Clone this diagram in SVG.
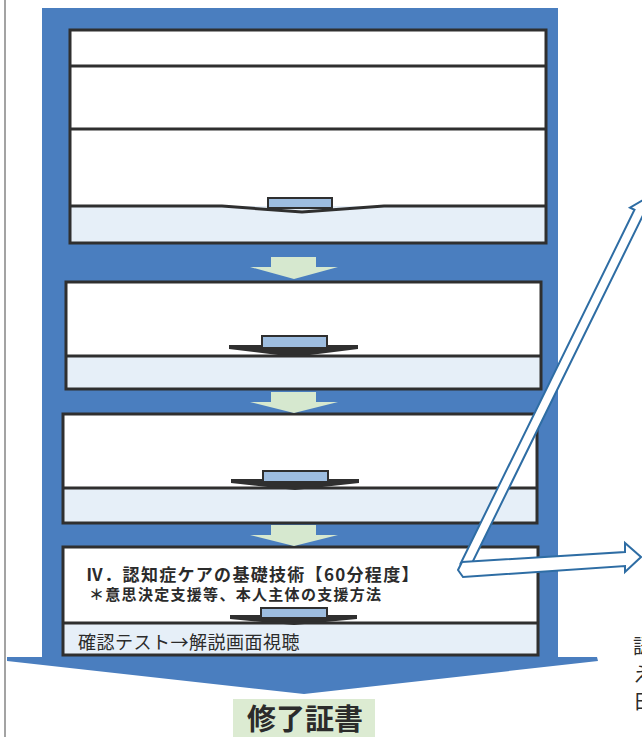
<svg xmlns="http://www.w3.org/2000/svg" width="642" height="737" viewBox="0 0 642 737">
<style>
.pw{fill:#ffffff;stroke:none}
.pl{fill:#e6eff8;stroke:none}
.po{fill:none;stroke:#2f2f2f;stroke-width:3}
.ln{fill:none;stroke:#2f2f2f;stroke-width:3}
.tab{fill:#9dbde0;stroke:#2f2f2f;stroke-width:2}
.chev{fill:#2f2f2f}
.ga{fill:#d6e8cf}
.da{fill:#ffffff;stroke:#2e6da4;stroke-width:2;stroke-linejoin:miter}
.jp{font-family:"Noto Sans CJK JP","Noto Sans",sans-serif;fill:#2b2b2b}
</style>
<line x1="5" y1="0" x2="5" y2="737" stroke="#666" stroke-width="1.2"/>
<g id="frame">
<path d="M42,8 H558 V657 H597 L598,661 L304,694 L7,661 L7,657 H42 Z" fill="#4a7ebf"/>
</g>
<g id="panel1">
<rect class="pw" x="70" y="30" width="476" height="213"/>
<rect class="pl" x="70" y="206" width="476" height="37"/>
<line class="ln" x1="70" y1="66" x2="546" y2="66"/>
<line class="ln" x1="70" y1="129" x2="546" y2="129"/>
<rect class="tab" x="268" y="198" width="64" height="10"/>
<path class="ln" d="M70,206 H222 L302,212 L384,206 H546"/>
<rect class="po" x="70" y="30" width="476" height="213"/>
</g>
<g id="panel2">
<rect class="pw" x="66" y="282" width="475" height="107"/>
<rect class="pl" x="66" y="356" width="475" height="33"/>
<path class="chev" d="M229,345 H358 V349 L294,357 L229,349 Z"/>
<rect class="tab" x="262" y="336" width="65" height="12"/>
<line class="ln" x1="66" y1="356" x2="541" y2="356"/>
<rect class="po" x="66" y="282" width="475" height="107"/>
</g>
<g id="panel3">
<rect class="pw" x="63" y="414" width="474" height="109"/>
<rect class="pl" x="63" y="488" width="474" height="35"/>
<path class="chev" d="M231,479 H359 V483 L295,490 L231,483 Z"/>
<rect class="tab" x="263" y="471" width="65" height="11"/>
<line class="ln" x1="63" y1="488" x2="537" y2="488"/>
<rect class="po" x="63" y="414" width="474" height="109"/>
</g>
<g id="panel4">
<rect class="pw" x="63" y="547" width="475" height="108"/>
<rect class="pl" x="63" y="623" width="475" height="32"/>
<path class="chev" d="M230,615 H357 V619 L294,625 L230,619 Z"/>
<rect class="tab" x="261" y="608" width="66" height="10"/>
<line class="ln" x1="63" y1="623" x2="538" y2="623"/>
<rect class="po" x="63" y="547" width="475" height="108"/>
<text class="jp" x="86" y="581" font-size="17" font-weight="bold" letter-spacing="1.3">Ⅳ．認知症ケアの基礎技術【60分程度】</text>
<text class="jp" x="89" y="600" font-size="15" font-weight="bold" letter-spacing="1.3">＊意思決定支援等、本人主体の支援方法</text>
<text class="jp" x="78" y="649" font-size="18" letter-spacing="0.5">確認テスト→解説画面視聴</text>
</g>
<g id="steps">
<polygon class="ga" points="271,257 316,257 316,267 338,267 294,279 250,267 271,267"/>
<polygon class="ga" points="271,392 316,392 316,402 338,402 294,413 250,402 271,402"/>
<polygon class="ga" points="271,525 316,525 316,535 338,535 294,546 250,535 271,535"/>
</g>
<g id="certificate">
<rect x="233" y="699" width="142" height="38" fill="#dcebd2"/>
<text class="jp" x="305" y="730" font-size="29" font-weight="bold" text-anchor="middle" fill="#333">修了証書</text>
</g>
<g id="connectors">
<polygon class="da" points="460.5,563.8 634.5,209.8 630,207.6 645.6,198.5 648,216.4 643.5,214.2 469.5,568.2"/>
<polygon class="da" points="462,562 625,552 625,543 641,557 625,572 625,566 463,577 458,570"/>
</g>
<g id="side-text">
<text class="jp" x="633" y="654" font-size="20">認</text>
<text class="jp" x="633" y="682" font-size="20">え</text>
<text class="jp" x="633" y="709" font-size="20">日</text>
</g>
</svg>
